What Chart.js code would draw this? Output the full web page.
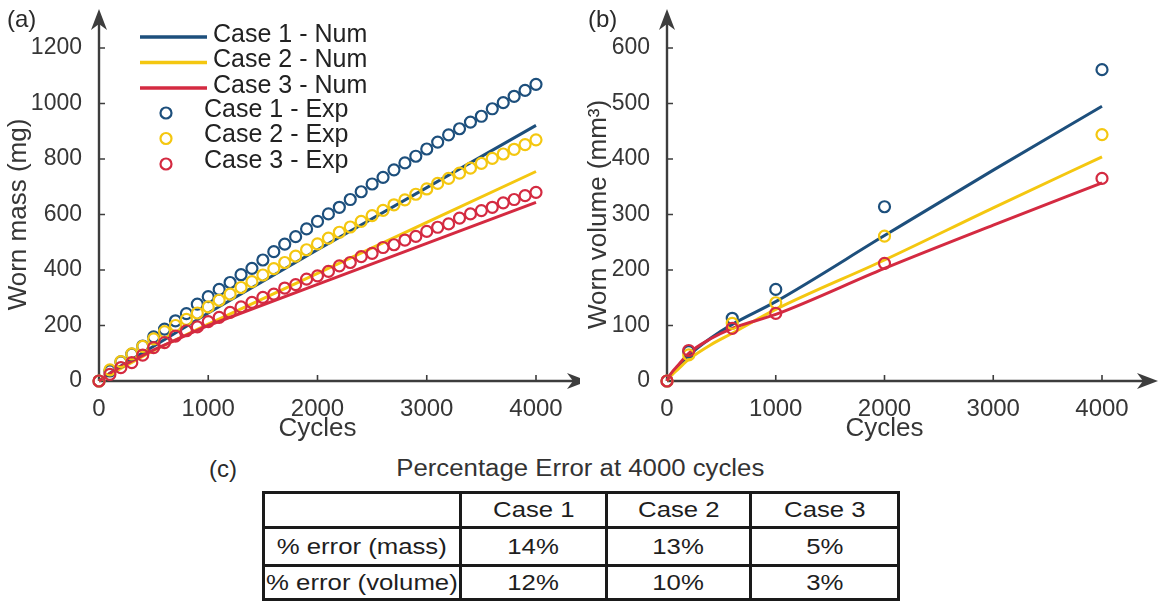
<!DOCTYPE html>
<html>
<head>
<meta charset="utf-8">
<script src="https://cdn.jsdelivr.net/npm/chart.js@4.4.1/dist/chart.umd.min.js"></script>
<style>
  body { margin: 0; width: 1160px; height: 602px; background: #fff; position: relative; overflow: hidden;
         font-family: "Liberation Sans", Arial, sans-serif; }
  #massChart { position: absolute; left: 0; top: 0; }
  #volChart { position: absolute; left: 580px; top: 0; }
  .tag { position: absolute; font-size: 24px; line-height: 1; color: #2a2a2a; }
  #tblTitle { position: absolute; left: 0; width: 1160px; top: 457px; text-align: center; line-height: 1; }
  #tblTitle span { display: inline-block; font-size: 23px; color: #333; transform: scaleX(1.12); }
  #errTable { position: absolute; left: 262px; top: 491px; border-collapse: collapse; table-layout: fixed; }
  #errTable td { border: 3px solid #1a1a1a; padding: 0; text-align: center; font-size: 22px; color: #1e1e1e;
                 white-space: nowrap; overflow: visible; line-height: 1; }
  #errTable td span { display: inline-block; transform: scaleX(1.17); }
</style>
</head>
<body>
<canvas id="massChart" width="580" height="450"></canvas>
<canvas id="volChart" width="580" height="450"></canvas>
<div class="tag" style="left:7px;top:7px">(a)</div>
<div class="tag" style="left:588px;top:7px">(b)</div>
<div class="tag" style="left:209px;top:457px">(c)</div>
<div id="tblTitle"><span>Percentage Error at 4000 cycles</span></div>
<table id="errTable"></table>

<script>
// worn mass, experiment: one reading every 100 cycles
const cycles = [0, 100, 200, 300, 400, 500, 600, 700, 800, 900, 1000, 1100, 1200, 1300, 1400, 1500, 1600, 1700,
  1800, 1900, 2000, 2100, 2200, 2300, 2400, 2500, 2600, 2700, 2800, 2900, 3000, 3100, 3200, 3300, 3400, 3500,
  3600, 3700, 3800, 3900, 4000];
const massExp1 = [0, 36, 69, 97, 126, 159, 187, 217, 243, 277, 304, 330, 355, 383, 406, 436, 466, 493, 520, 548,
  575, 602, 626, 654, 682, 710, 734, 761, 786, 810, 836, 861, 887, 909, 933, 954, 981, 1003, 1026, 1047, 1069];
const massExp2 = [0, 40, 70, 98, 125, 152, 178, 200, 222, 245, 267, 291, 313, 337, 358, 382, 405, 427, 450, 473,
  494, 515, 536, 555, 575, 596, 615, 635, 653, 673, 692, 712, 730, 749, 767, 784, 802, 818, 835, 852, 869];
const massExp3 = [0, 24, 48, 66, 93, 120, 138, 162, 181, 195, 214, 229, 247, 267, 283, 301, 313, 335, 347, 367,
  379, 395, 415, 427, 448, 460, 481, 491, 508, 521, 539, 554, 566, 587, 602, 614, 626, 642, 654, 668, 680];

// worn mass, simulation
const massNumCycles = [0, 100, 200, 500, 1000, 2000, 3000, 4000];
const massNum1 = [0, 28, 54, 125, 245, 473, 697, 921];
const massNum2 = [0, 24, 45, 110, 205, 388, 572, 755];
const massNum3 = [0, 27, 52, 112, 200, 348, 496, 644];

// worn volume
const volExpCycles = [0, 200, 600, 1000, 2000, 4000];
const volExp1 = [0, 53, 113, 165, 314, 561];
const volExp2 = [0, 47, 104, 141, 261, 444];
const volExp3 = [0, 55, 95, 122, 212, 365];

const volNumCycles = [0, 25, 50, 100, 200, 400, 600, 1000, 2000, 3000, 4000];
const volNum1 = [0, 9, 15, 25, 46, 77, 102, 143, 262, 380, 495];
const volNum2 = [0, 7, 12, 21, 39, 65, 86, 129, 218, 312, 404];
const volNum3 = [0, 10, 17, 28, 50, 76, 95, 120, 203, 281, 357];

const caseNames = ["Case 1", "Case 2", "Case 3"];
const caseColors = ["#1d4f7c", "#f4c710", "#d42a41"];

// error table at 4000 cycles
const errorRows = ["% error (mass)", "% error (volume)"];
const massErr = [14, 13, 5];
const volErr = [12, 10, 3];

const axisColor = "#3d3d3d";
const textColor = "#363636";
const fontFamily = '"Liberation Sans", Arial, sans-serif';

const xy = (xs, ys) => xs.map((x, i) => ({ x: x, y: ys[i] }));

function buildSets(numX, nums, expX, exps, smooth) {
  const sets = [];
  nums.forEach((ys, i) => {
    sets.push({
      label: caseNames[i] + " - Num",
      data: xy(numX, ys),
      showLine: true,
      borderColor: caseColors[i],
      borderWidth: 3,
      pointRadius: 0,
      tension: 0,
      cubicInterpolationMode: smooth ? "monotone" : "default",
      order: 5 - i,
      clip: false,
    });
  });
  exps.forEach((ys, i) => {
    sets.push({
      label: caseNames[i] + " - Exp",
      data: xy(expX, ys),
      showLine: false,
      borderColor: caseColors[i],
      pointRadius: 5.5,
      pointBorderWidth: 2.2,
      pointBorderColor: caseColors[i],
      pointBackgroundColor: "rgba(0,0,0,0)",
      order: 2 - i,
      clip: false,
    });
  });
  return sets;
}

function arrowHead(ctx, x, y, dir) {
  const len = 21, half = 8, notch = 15;
  ctx.beginPath();
  if (dir === "up") {
    ctx.moveTo(x, y);
    ctx.lineTo(x + half, y + len);
    ctx.lineTo(x, y + notch);
    ctx.lineTo(x - half, y + len);
  } else {
    ctx.moveTo(x, y);
    ctx.lineTo(x - len, y - half);
    ctx.lineTo(x - notch, y);
    ctx.lineTo(x - len, y + half);
  }
  ctx.closePath();
  ctx.fill();
}

// axis lines with arrows and inward tick marks
const axisArrows = {
  id: "axisArrows",
  beforeDatasetsDraw(chart, args, opts) {
    const { ctx, chartArea: a, scales } = chart;
    ctx.save();
    ctx.strokeStyle = axisColor;
    ctx.fillStyle = axisColor;
    ctx.lineWidth = 2.4;
    ctx.beginPath();
    ctx.moveTo(a.left, a.bottom);
    ctx.lineTo(opts.xTip - 12, a.bottom);
    ctx.moveTo(a.left, a.bottom);
    ctx.lineTo(a.left, opts.yTip + 12);
    ctx.stroke();
    ctx.lineWidth = 1.6;
    ctx.beginPath();
    scales.x.ticks.forEach((t) => {
      if (t.value === 0) return;
      const px = scales.x.getPixelForValue(t.value);
      ctx.moveTo(px, a.bottom);
      ctx.lineTo(px, a.bottom - 6);
    });
    scales.y.ticks.forEach((t) => {
      if (t.value === 0) return;
      const py = scales.y.getPixelForValue(t.value);
      ctx.moveTo(a.left, py);
      ctx.lineTo(a.left + 6, py);
    });
    ctx.stroke();
    arrowHead(ctx, opts.xTip, a.bottom, "right");
    arrowHead(ctx, a.left, opts.yTip, "up");
    ctx.restore();
  },
};

// legend: line samples for the model, open circles for the measurements
const caseLegend = {
  id: "caseLegend",
  afterDatasetsDraw(chart, args, o) {
    const ctx = chart.ctx;
    ctx.save();
    ctx.font = "25px " + fontFamily;
    ctx.textBaseline = "middle";
    chart.data.datasets.forEach((ds, i) => {
      const row = i % 3;
      if (ds.showLine) {
        const y = o.numTop + row * o.rowGap;
        ctx.strokeStyle = ds.borderColor;
        ctx.lineWidth = 3.5;
        ctx.beginPath();
        ctx.moveTo(o.lineX0, y);
        ctx.lineTo(o.lineX1, y);
        ctx.stroke();
        ctx.fillStyle = "#222";
        ctx.fillText(ds.label, o.numTextX, y - 2);
      } else {
        const y = o.expTop + row * o.rowGap;
        ctx.strokeStyle = ds.borderColor;
        ctx.lineWidth = 2.2;
        ctx.beginPath();
        ctx.arc(o.markX, y, 5.5, 0, Math.PI * 2);
        ctx.stroke();
        ctx.fillStyle = "#222";
        ctx.fillText(ds.label, o.expTextX, y - 3);
      }
    });
    ctx.restore();
  },
};

const plainNumber = (v) => String(v);

function makeOptions(yMax, yStep, yTitle, yWidth, padRight, tips, legend) {
  return {
    responsive: false,
    animation: false,
    devicePixelRatio: 1,
    layout: { padding: { left: 0, top: 48, right: padRight, bottom: 0 } },
    plugins: {
      legend: { display: false },
      tooltip: { enabled: false },
      axisArrows: tips,
      caseLegend: legend,
    },
    scales: {
      x: {
        type: "linear",
        min: 0,
        max: 4000,
        grid: { display: false },
        border: { display: false },
        ticks: { stepSize: 1000, maxRotation: 0, padding: 6, color: textColor, callback: plainNumber,
                 font: { family: fontFamily, size: 24 } },
        title: { display: true, text: "Cycles", color: textColor, padding: { top: 0, bottom: 6 },
                 font: { family: fontFamily, size: 26 } },
        afterFit: (s) => { s.height = 69; },
      },
      y: {
        min: 0,
        max: yMax,
        grid: { display: false },
        border: { display: false },
        ticks: { stepSize: yStep, padding: 9, color: textColor, callback: plainNumber,
                 font: { family: fontFamily, size: 23 } },
        title: { display: true, text: yTitle, color: textColor, padding: { top: 3, bottom: 0 },
                 font: { family: fontFamily, size: 26 } },
        afterFit: (s) => { s.width = yWidth; },
      },
    },
  };
}

new Chart(document.getElementById("massChart"), {
  type: "scatter",
  data: { datasets: buildSets(massNumCycles, [massNum1, massNum2, massNum3], cycles, [massExp1, massExp2, massExp3], false) },
  options: makeOptions(1200, 200, "Worn mass (mg)", 99, 44, { xTip: 588, yTip: 9 },
    { numTop: 37, expTop: 113, rowGap: 25.5, lineX0: 140, lineX1: 207, numTextX: 213, markX: 166, expTextX: 204 }),
  plugins: [axisArrows, caseLegend],
});

new Chart(document.getElementById("volChart"), {
  type: "scatter",
  data: { datasets: buildSets(volNumCycles, [volNum1, volNum2, volNum3], volExpCycles, [volExp1, volExp2, volExp3], true) },
  options: makeOptions(600, 100, "Worn volume (mm³)", 87, 58, { xTip: 578, yTip: 9 }, {}),
  plugins: [axisArrows],
});

// percentage error table
const table = document.getElementById("errTable");
const colWidths = [197, 146, 144, 148];
const rowHeights = [35, 38, 34];
const cg = document.createElement("colgroup");
colWidths.forEach((w) => {
  const c = document.createElement("col");
  c.style.width = w + "px";
  cg.appendChild(c);
});
table.appendChild(cg);
const cells = [[""].concat(caseNames)];
cells.push([errorRows[0]].concat(massErr.map((v) => v + "%")));
cells.push([errorRows[1]].concat(volErr.map((v) => v + "%")));
cells.forEach((row, r) => {
  const tr = document.createElement("tr");
  tr.style.height = rowHeights[r] + "px";
  row.forEach((txt) => {
    const td = document.createElement("td");
    const sp = document.createElement("span");
    sp.textContent = txt;
    td.appendChild(sp);
    tr.appendChild(td);
  });
  table.appendChild(tr);
});
</script>
</body>
</html>
